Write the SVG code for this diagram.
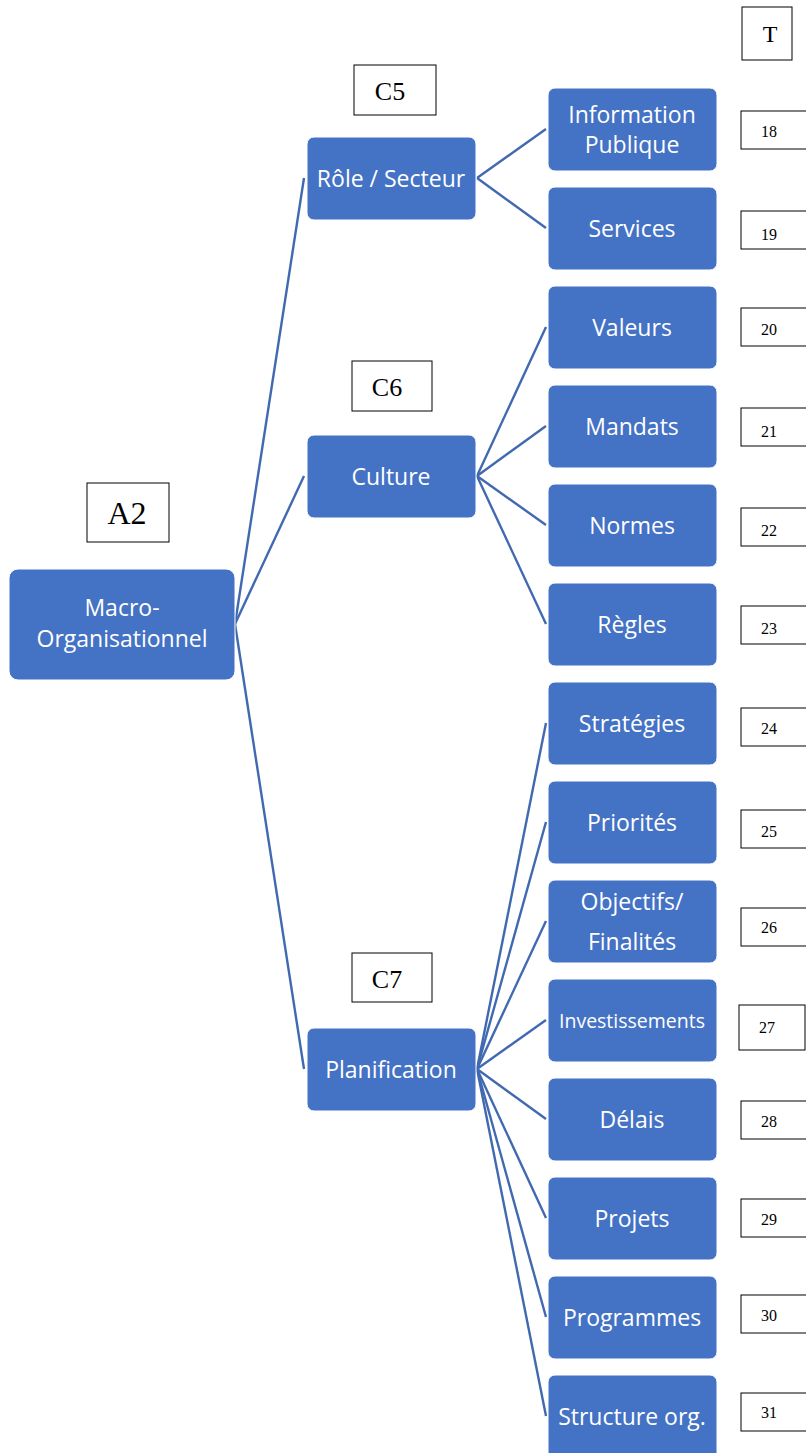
<svg xmlns="http://www.w3.org/2000/svg" width="806" height="1453" viewBox="0 0 806 1453">
<style>
.n rect{fill:#4472C4;stroke:#fff;stroke-width:1}
.n text{fill:#fff;font-family:"Open Sans","Noto Sans",sans-serif;font-size:23px;text-anchor:middle;dominant-baseline:central}
.c line{stroke:#4169B0;stroke-width:2.4}
.b rect{fill:#fff;stroke:#000;stroke-width:1}
.b text{fill:#000;font-family:"Liberation Serif",serif;dominant-baseline:central}
.b .s{font-size:16px}
</style>
<rect width="806" height="1453" fill="#fff"/>
<g class="c" id="connectors">
<line x1="235" y1="624" x2="304" y2="178"/>
<line x1="235" y1="624" x2="304" y2="476"/>
<line x1="235" y1="624" x2="304" y2="1069"/>
<line x1="477" y1="178" x2="546" y2="129"/>
<line x1="477" y1="178" x2="546" y2="228"/>
<line x1="477" y1="476" x2="546" y2="327"/>
<line x1="477" y1="476" x2="546" y2="426"/>
<line x1="477" y1="476" x2="546" y2="525"/>
<line x1="477" y1="476" x2="546" y2="624"/>
<line x1="477" y1="1069" x2="546" y2="723"/>
<line x1="477" y1="1069" x2="546" y2="822"/>
<line x1="477" y1="1069" x2="546" y2="921"/>
<line x1="477" y1="1069" x2="546" y2="1020"/>
<line x1="477" y1="1069" x2="546" y2="1119"/>
<line x1="477" y1="1069" x2="546" y2="1218"/>
<line x1="477" y1="1069" x2="546" y2="1317"/>
<line x1="477" y1="1069" x2="546" y2="1416"/>
</g>
<g class="n" id="macro"><rect x="9" y="569" width="226" height="111" rx="9"/><text x="122" y="607">Macro-</text><text x="122" y="638">Organisationnel</text></g>
<g class="n" id="role"><rect x="307" y="137" width="169" height="83" rx="7"/><text x="391" y="178">Rôle / Secteur</text></g>
<g class="n" id="culture"><rect x="307" y="435" width="169" height="83" rx="7"/><text x="391" y="476">Culture</text></g>
<g class="n" id="planification"><rect x="307" y="1028" width="169" height="83" rx="7"/><text x="391" y="1069">Planification</text></g>
<g class="n" id="info"><rect x="548" y="88" width="169" height="83" rx="7"/><text x="632" y="114">Information</text><text x="632" y="144">Publique</text></g>
<g class="n" id="services"><rect x="548" y="187" width="169" height="83" rx="7"/><text x="632" y="228">Services</text></g>
<g class="n" id="valeurs"><rect x="548" y="286" width="169" height="83" rx="7"/><text x="632" y="327">Valeurs</text></g>
<g class="n" id="mandats"><rect x="548" y="385" width="169" height="83" rx="7"/><text x="632" y="426">Mandats</text></g>
<g class="n" id="normes"><rect x="548" y="484" width="169" height="83" rx="7"/><text x="632" y="525">Normes</text></g>
<g class="n" id="regles"><rect x="548" y="583" width="169" height="83" rx="7"/><text x="632" y="624">Règles</text></g>
<g class="n" id="strategies"><rect x="548" y="682" width="169" height="83" rx="7"/><text x="632" y="723">Stratégies</text></g>
<g class="n" id="priorites"><rect x="548" y="781" width="169" height="83" rx="7"/><text x="632" y="822">Priorités</text></g>
<g class="n" id="objectifs"><rect x="548" y="880" width="169" height="83" rx="7"/><text x="632" y="901">Objectifs/</text><text x="632" y="941">Finalités</text></g>
<g class="n" id="investissements"><rect x="548" y="979" width="169" height="83" rx="7"/><text x="632" y="1020" style="font-size:19.5px">Investissements</text></g>
<g class="n" id="delais"><rect x="548" y="1078" width="169" height="83" rx="7"/><text x="632" y="1119">Délais</text></g>
<g class="n" id="projets"><rect x="548" y="1177" width="169" height="83" rx="7"/><text x="632" y="1218">Projets</text></g>
<g class="n" id="programmes"><rect x="548" y="1276" width="169" height="83" rx="7"/><text x="632" y="1317">Programmes</text></g>
<g class="n" id="structure"><rect x="548" y="1375" width="169" height="90" rx="7"/><text x="632" y="1416">Structure org.</text></g>
<g class="b" id="lbl-a2"><rect x="87" y="483" width="82" height="59"/><text x="127" y="513" text-anchor="middle" style="font-size:32px">A2</text></g>
<g class="b" id="lbl-c5"><rect x="354" y="65" width="82" height="50"/><text x="390" y="91" text-anchor="middle" style="font-size:26px">C5</text></g>
<g class="b" id="lbl-c6"><rect x="352" y="361" width="80" height="50"/><text x="387" y="387" text-anchor="middle" style="font-size:26px">C6</text></g>
<g class="b" id="lbl-c7"><rect x="352" y="953" width="80" height="49"/><text x="387" y="979" text-anchor="middle" style="font-size:26px">C7</text></g>
<g class="b" id="lbl-t"><rect x="742" y="7" width="50" height="53"/><text x="770" y="34" text-anchor="middle" style="font-size:24px">T</text></g>
<g class="b" id="n18"><rect x="741" y="111" width="70" height="38"/><text class="s" x="761" y="131">18</text></g>
<g class="b" id="n19"><rect x="741" y="211" width="70" height="38"/><text class="s" x="761" y="234">19</text></g>
<g class="b" id="n20"><rect x="741" y="308" width="70" height="38"/><text class="s" x="761" y="329">20</text></g>
<g class="b" id="n21"><rect x="741" y="408" width="70" height="38"/><text class="s" x="761" y="431">21</text></g>
<g class="b" id="n22"><rect x="741" y="508" width="70" height="38"/><text class="s" x="761" y="530">22</text></g>
<g class="b" id="n23"><rect x="741" y="606" width="70" height="38"/><text class="s" x="761" y="628">23</text></g>
<g class="b" id="n24"><rect x="741" y="708" width="70" height="38"/><text class="s" x="761" y="728">24</text></g>
<g class="b" id="n25"><rect x="741" y="810" width="70" height="38"/><text class="s" x="761" y="831">25</text></g>
<g class="b" id="n26"><rect x="741" y="908" width="70" height="38"/><text class="s" x="761" y="927">26</text></g>
<g class="b" id="n27"><rect x="739" y="1005" width="66" height="45"/><text class="s" x="759" y="1027">27</text></g>
<g class="b" id="n28"><rect x="741" y="1101" width="70" height="38"/><text class="s" x="761" y="1121">28</text></g>
<g class="b" id="n29"><rect x="741" y="1199" width="70" height="38"/><text class="s" x="761" y="1219">29</text></g>
<g class="b" id="n30"><rect x="741" y="1295" width="70" height="38"/><text class="s" x="761" y="1315">30</text></g>
<g class="b" id="n31"><rect x="741" y="1393" width="70" height="38"/><text class="s" x="761" y="1412">31</text></g>
</svg>
